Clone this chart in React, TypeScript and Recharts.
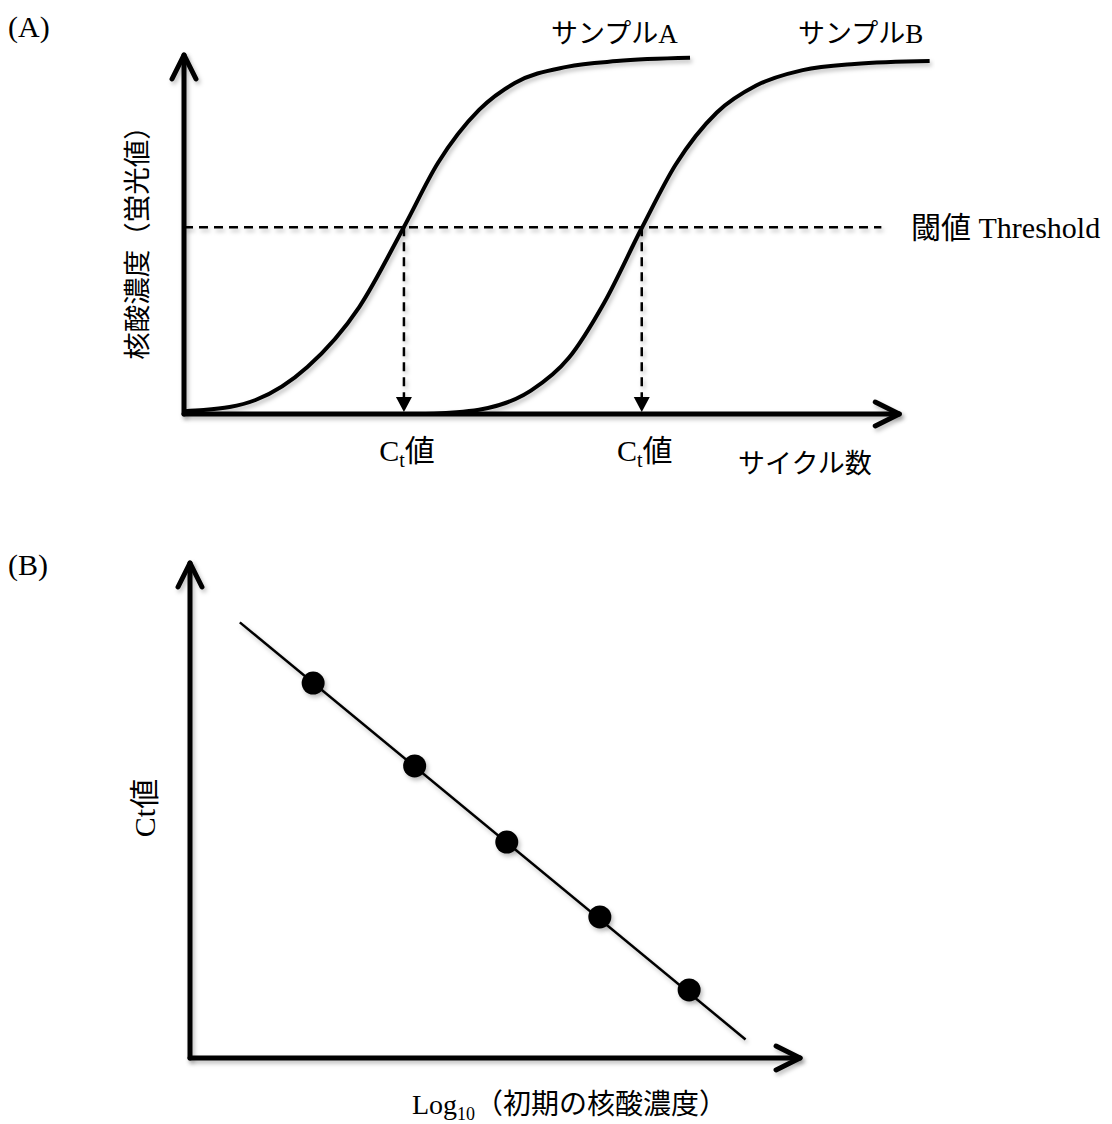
import React from "react"
import {
    ComposedChart,
    Line,
    Scatter,
    XAxis,
    YAxis,
    ReferenceLine,
    ReferenceDot
} from "recharts"

const FONT = '"Liberation Serif", "Noto Sans CJK JP", serif'

// (A) amplification curves: cycle vs fluorescence
const sampleACycles = [0, 1.1, 4.0, 6.9, 9.8, 12.3, 14.2, 16.5, 18.5, 21.4, 24.2, 28.3]
const sampleAValues = [0.8, 1.1, 3.9, 13.1, 29.8, 52.1, 69.9, 84.7, 92.2, 96.7, 98.3, 99.2]
const sampleBCycles = [13.5, 16.5, 19.4, 21.5, 23.5, 25.6, 27.5, 29.8, 32.0, 34.6, 37.5, 41.7]
const sampleBValues = [0, 1.2, 6.5, 15.5, 31.0, 51.8, 69.5, 84.0, 91.5, 95.8, 97.5, 98.3]
const threshold = 52
const ctCycles = [12.3, 25.6]

// (B) standard curve: log10 initial concentration vs Ct
const logConc = [1.31, 2.39, 3.37, 4.36, 5.31]
const ctMeasured = [30.3, 23.6, 17.45, 11.4, 5.5]
const fitLogConc = [0.53, 5.91]
const fitCt = [35.2, 1.5]

const toPoints = (xs: number[], ys: number[]) => xs.map((x, i) => ({ x, y: ys[i] }))

const curveA = toPoints(sampleACycles, sampleAValues)
const curveB = toPoints(sampleBCycles, sampleBValues)
const standardPoints = toPoints(logConc, ctMeasured)
const fitLine = toPoints(fitLogConc, fitCt)

const upArrow = (p: any) => (
    <path
        className="arrow-mark"
        d={`M${p.cx - 12},${p.cy + 24} L${p.cx},${p.cy} L${p.cx + 12},${p.cy + 24}`}
        fill="none"
        stroke="#000"
        strokeWidth={5}
        strokeLinecap="round"
        strokeLinejoin="round"
    />
)

const rightArrow = (p: any) => (
    <path
        className="arrow-mark"
        d={`M${p.cx - 24},${p.cy - 12} L${p.cx},${p.cy} L${p.cx - 24},${p.cy + 12}`}
        fill="none"
        stroke="#000"
        strokeWidth={5}
        strokeLinecap="round"
        strokeLinejoin="round"
    />
)

// small filled triangle on the axis plus the Ct label underneath
const ctMarker = (p: any) => (
    <g>
        <path
            d={`M${p.cx - 8},${p.cy - 17} L${p.cx + 8},${p.cy - 17} L${p.cx},${p.cy - 2} Z`}
            fill="#000"
        />
        <text
            x={p.cx + 3}
            y={461}
            textAnchor="middle"
            fontFamily={FONT}
            fontSize={30}
            fill="#000"
        >
            C<tspan dy={6} fontSize={20}>t</tspan><tspan dy={-6}>値</tspan>
        </text>
    </g>
)

const dot = (p: any) => <circle className="dot-mark" cx={p.cx} cy={p.cy} r={11.5} fill="#000" />

export default function App() {
    return (
        <div style={{ position: "absolute", left: 0, top: 0, width: 1112, height: 1124, background: "#fff" }}>
            <style>{`
                .recharts-line-curve, .recharts-reference-line-line, .arrow-mark, .dot-mark {
                    filter: drop-shadow(2px 3px 2px rgba(0,0,0,0.25));
                }
            `}</style>

            {/* (A) */}
            <div style={{ position: "absolute", left: 0, top: 0 }}>
                <ComposedChart
                    width={1112}
                    height={480}
                    margin={{ top: 55, right: 177, bottom: 66, left: 184 }}
                >
                    <XAxis type="number" dataKey="x" domain={[0, 42]} hide allowDataOverflow />
                    <YAxis type="number" dataKey="y" domain={[0, 100]} hide allowDataOverflow />

                    <ReferenceLine
                        segment={[{ x: 0, y: threshold }, { x: 39, y: threshold }]}
                        stroke="#000"
                        strokeWidth={2.5}
                        strokeDasharray="9 6"
                    />
                    {ctCycles.map((c, i) => (
                        <ReferenceLine
                            key={"ct" + i}
                            segment={[{ x: c, y: threshold }, { x: c, y: 4.5 }]}
                            stroke="#000"
                            strokeWidth={2.5}
                            strokeDasharray="9 6"
                        />
                    ))}

                    <Line
                        data={curveA}
                        dataKey="y"
                        type="monotone"
                        stroke="#000"
                        strokeWidth={4}
                        dot={false}
                        isAnimationActive={false}
                    />
                    <Line
                        data={curveB}
                        dataKey="y"
                        type="monotone"
                        stroke="#000"
                        strokeWidth={4}
                        dot={false}
                        isAnimationActive={false}
                    />

                    <ReferenceLine
                        segment={[{ x: 0, y: 0 }, { x: 0, y: 100 }]}
                        stroke="#000"
                        strokeWidth={5}
                        strokeLinecap="round"
                    />
                    <ReferenceLine
                        segment={[{ x: 0, y: 0 }, { x: 40, y: 0 }]}
                        stroke="#000"
                        strokeWidth={5}
                        strokeLinecap="round"
                    />
                    <ReferenceDot x={0} y={100} r={0} shape={upArrow} />
                    <ReferenceDot x={40} y={0} r={0} shape={rightArrow} />
                    {ctCycles.map((c, i) => (
                        <ReferenceDot key={"m" + i} x={c} y={0} r={0} shape={ctMarker} />
                    ))}
                </ComposedChart>
            </div>

            {/* (B) */}
            <div style={{ position: "absolute", left: 0, top: 520 }}>
                <ComposedChart
                    width={1112}
                    height={580}
                    margin={{ top: 43, right: 264, bottom: 42, left: 190 }}
                >
                    <XAxis type="number" dataKey="x" domain={[0, 7]} hide allowDataOverflow />
                    <YAxis type="number" dataKey="y" domain={[0, 40]} hide allowDataOverflow />

                    <Line
                        data={fitLine}
                        dataKey="y"
                        type="linear"
                        stroke="#000"
                        strokeWidth={2.5}
                        dot={false}
                        isAnimationActive={false}
                    />
                    <Scatter data={standardPoints} shape={dot} isAnimationActive={false} />

                    <ReferenceLine
                        segment={[{ x: 0, y: 0 }, { x: 0, y: 40 }]}
                        stroke="#000"
                        strokeWidth={5}
                        strokeLinecap="round"
                    />
                    <ReferenceLine
                        segment={[{ x: 0, y: 0 }, { x: 6.49, y: 0 }]}
                        stroke="#000"
                        strokeWidth={5}
                        strokeLinecap="round"
                    />
                    <ReferenceDot x={0} y={40} r={0} shape={upArrow} />
                    <ReferenceDot x={6.49} y={0} r={0} shape={rightArrow} />
                </ComposedChart>
            </div>

            {/* labels */}
            <svg
                width={1112}
                height={1124}
                style={{ position: "absolute", left: 0, top: 0, pointerEvents: "none" }}
                fontFamily={FONT}
                fill="#000"
            >
                <text x={8} y={37} fontSize={30}>(A)</text>
                <text x={8} y={575} fontSize={30}>(B)</text>

                <text x={551} y={43} fontSize={27}>サンプルA</text>
                <text x={798} y={43} fontSize={27}>サンプルB</text>
                <text x={911} y={238} fontSize={30}>閾値 Threshold</text>
                <text x={738} y={473} fontSize={27}>サイクル数</text>

                <text
                    x={137}
                    y={236}
                    fontSize={27.5}
                    textAnchor="middle"
                    dominantBaseline="central"
                    transform="rotate(-90 137 236)"
                >
                    核酸濃度（蛍光値）
                </text>

                <text
                    x={144}
                    y={808}
                    fontSize={30}
                    textAnchor="middle"
                    dominantBaseline="central"
                    transform="rotate(-90 144 808)"
                >
                    Ct値
                </text>

                <text x={412} y={1114} fontSize={28}>
                    Log<tspan dy={6} fontSize={18}>10</tspan><tspan dy={-6}>（初期の核酸濃度）</tspan>
                </text>
            </svg>
        </div>
    )
}
